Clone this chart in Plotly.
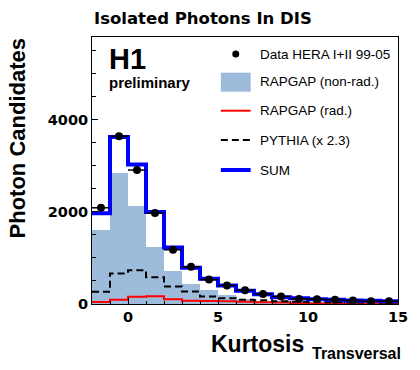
import plotly.graph_objects as go

# ---- data ----
bin_lo = [-2, -1, 0, 1, 2, 3, 4, 5, 6, 7, 8, 9, 10, 11, 12, 13, 14]
bin_hi_last = 15
bin_ctr = [-1.5, -0.5, 0.5, 1.5, 2.5, 3.5, 4.5, 5.5, 6.5, 7.5, 8.5, 9.5, 10.5, 11.5, 12.5, 13.5, 14.5]

data_hera = [2090, 3645, 2910, 1975, 1178, 808, 530, 402, 300, 218, 163, 110, 105, 90, 75, 58, 60]
rapgap_nonrad = [1615, 2835, 2120, 1236, 714, 430, 300, 185, 112, 76, 55, 45, 35, 30, 25, 20, 18]
rapgap_rad = [45, 93, 155, 170, 105, 70, 65, 58, 50, 40, 30, 12, 12, 10, 8, 6, 6]
pythia = [265, 665, 735, 583, 380, 270, 163, 127, 95, 80, 60, 50, 45, 40, 35, 30, 30]
sum_mc = [1970, 3627, 3030, 1996, 1230, 785, 547, 402, 288, 212, 149, 125, 105, 92, 78, 70, 62]

x_ticks = [0, 5, 10, 15]
y_ticks = [0, 2000, 4000]

FILL = "rgb(157,187,219)"
SANS = "Liberation Sans, Arial, Helvetica, sans-serif"
WIDE = "DejaVu Sans, Verdana, sans-serif"

edges = bin_lo + [bin_hi_last]


def step(vals):
    return vals + [vals[-1]]


fig = go.Figure()
fig.add_trace(go.Bar(x=bin_lo, y=rapgap_nonrad, width=1, offset=0,
                     marker=dict(color=FILL, line=dict(width=0)), showlegend=False))
fig.add_trace(go.Scatter(x=edges, y=step(rapgap_rad), mode="lines", line_shape="hv",
                         line=dict(color="red", width=2), showlegend=False))
fig.add_trace(go.Scatter(x=edges, y=step(pythia), mode="lines", line_shape="hv",
                         line=dict(color="black", width=2, dash="7px,4px"), showlegend=False))
fig.add_trace(go.Scatter(x=edges, y=step(sum_mc), mode="lines", line_shape="hv",
                         line=dict(color="rgb(0,0,255)", width=4), showlegend=False))
fig.add_trace(go.Scatter(x=bin_ctr, y=data_hera, mode="markers",
                         marker=dict(color="black", size=8),
                         error_x=dict(type="constant", value=0.5, thickness=1.5, width=0, color="black"),
                         showlegend=False))

# target plot area in window pixels
L, R, T, B = 92, 400, 37, 304
W, H = 420, 370


def px(x):
    return (x - L) / (R - L)


def py(y):
    return (B - y) / (B - T)


shapes = []
# legend symbols
shapes.append(dict(type="circle", xref="paper", yref="paper",
                   x0=px(233.2), x1=px(240.2), y0=py(57.5), y1=py(50.5),
                   fillcolor="black", line=dict(width=0)))
shapes.append(dict(type="rect", xref="paper", yref="paper",
                   x0=px(221.7), x1=px(251.7), y0=py(91.7), y1=py(72.7),
                   fillcolor=FILL, line=dict(width=0)))
shapes.append(dict(type="line", xref="paper", yref="paper",
                   x0=px(221.7), x1=px(251.7), y0=py(110.7), y1=py(110.7),
                   line=dict(color="red", width=2)))
shapes.append(dict(type="line", xref="paper", yref="paper",
                   x0=px(221.7), x1=px(251.7), y0=py(140), y1=py(140),
                   line=dict(color="black", width=2, dash="7px,4px")))
shapes.append(dict(type="line", xref="paper", yref="paper",
                   x0=px(221.7), x1=px(251.7), y0=py(170), y1=py(170),
                   line=dict(color="rgb(0,0,255)", width=4)))

legend_labels = ["Data HERA I+II 99-05", "RAPGAP (non-rad.)", "RAPGAP (rad.)",
                 "PYTHIA (x 2.3)", "SUM"]
legend_rows = [54, 81.7, 110.7, 140, 170]

annotations = []
for lab, yy in zip(legend_labels, legend_rows):
    annotations.append(dict(text=lab, xref="paper", yref="paper", x=px(259), y=py(yy),
                            xanchor="left", yanchor="middle", showarrow=False,
                            font=dict(family=SANS, size=13.5, color="black")))

annotations += [
    dict(text="<b>Isolated Photons In DIS</b>", xref="paper", yref="paper",
         x=px(92), y=py(18.5), xanchor="left", yanchor="middle", showarrow=False,
         font=dict(family=WIDE, size=16.5, color="black")),
    dict(text="<b>H1</b>", xref="paper", yref="paper",
         x=px(107.5), y=py(59), xanchor="left", yanchor="middle", showarrow=False,
         font=dict(family=SANS, size=29, color="black")),
    dict(text="<b>preliminary</b>", xref="paper", yref="paper",
         x=px(107.5), y=py(82), xanchor="left", yanchor="middle", showarrow=False,
         font=dict(family=SANS, size=15, color="black")),
    dict(text="<b>Photon Candidates</b>", xref="paper", yref="paper",
         x=px(17.5), y=py(138.5), xanchor="center", yanchor="middle", showarrow=False,
         textangle=-90, font=dict(family=SANS, size=22, color="black")),
    dict(text="<b>Kurtosis</b>", xref="paper", yref="paper",
         x=px(259), y=py(344), xanchor="center", yanchor="middle", showarrow=False,
         font=dict(family=SANS, size=23, color="black")),
    dict(text="<b>Transversal</b>", xref="paper", yref="paper",
         x=px(311), y=py(353), xanchor="left", yanchor="middle", showarrow=False,
         font=dict(family=SANS, size=16, color="black")),
]

fig.update_layout(
    width=W, height=H, autosize=False,
    margin=dict(l=L, r=W - R, t=T, b=H - B, pad=0),
    paper_bgcolor="white", plot_bgcolor="white",
    bargap=0, showlegend=False, hovermode=False,
    shapes=shapes, annotations=annotations,
    xaxis=dict(range=[-2, 15], tickvals=x_ticks, ticktext=[str(v) for v in x_ticks],
               ticks="inside", ticklen=6, tickwidth=1, tickcolor="black",
               minor=dict(dtick=1, tick0=0, ticks="inside", ticklen=3, tickcolor="black"),
               showline=True, linecolor="black", linewidth=1, mirror=True,
               showgrid=False, zeroline=False, layer="above traces",
               tickfont=dict(family=WIDE, size=14.5, color="black", weight="bold")),
    yaxis=dict(range=[0, 5800], tickvals=y_ticks, ticktext=[str(v) for v in y_ticks],
               ticks="inside", ticklen=6, tickwidth=1, tickcolor="black",
               minor=dict(dtick=500, tick0=0, ticks="inside", ticklen=4, tickcolor="black"),
               showline=True, linecolor="black", linewidth=1, mirror=True,
               showgrid=False, zeroline=False, layer="above traces",
               tickfont=dict(family=WIDE, size=14.5, color="black", weight="bold")),
)

fig.write_html("out.html", config={"displayModeBar": False, "staticPlot": True},
               post_script="document.body.style.margin='0';document.body.style.overflow='hidden';")
